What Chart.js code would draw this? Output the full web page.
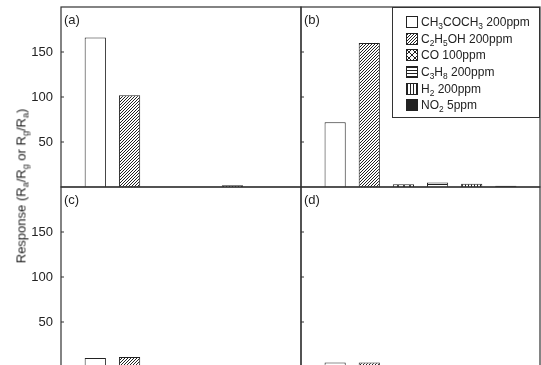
<!DOCTYPE html>
<html>
<head>
<meta charset="utf-8">
<script src="https://cdn.jsdelivr.net/npm/chart.js@4.4.1/dist/chart.umd.min.js"></script>
<style>
  html, body { margin: 0; padding: 0; background: #fff; overflow: hidden; width: 541px; height: 365px; }
  body { position: relative; font-family: "Liberation Sans", Arial, sans-serif; color: #222; }
  canvas { position: absolute; }
  #ytitle { position: absolute; left: 21px; top: 186px; transform: translate(-50%, -50%) rotate(-90deg);
            white-space: nowrap; font-size: 13px; }
  sub { font-size: 70%; vertical-align: -0.3em; line-height: 0; }
  #legend { position: absolute; left: 392px; top: 7px; width: 148px; height: 111px; box-sizing: border-box;
            background: #fff; border: 1px solid #333; padding: 6px 0 0 13px; font-size: 12px; }
  .row { height: 16.6px; display: flex; align-items: center; white-space: nowrap; }
  .row canvas { position: static; margin-right: 3px; }
</style>
</head>
<body>
<canvas id="ca" width="310" height="200" style="left:0;top:0"></canvas>
<canvas id="cb" width="260" height="200" style="left:290px;top:0"></canvas>
<canvas id="cc" width="310" height="200" style="left:0;top:180px"></canvas>
<canvas id="cd" width="260" height="200" style="left:290px;top:180px"></canvas>
<div id="ytitle">Response (R<sub>a</sub>/R<sub>g</sub> or R<sub>g</sub>/R<sub>a</sub>)</div>
<div id="legend"></div>
<script>
// gases, same order in every panel
const gases = ['CH3COCH3', 'C2H5OH', 'CO', 'C3H8', 'H2', 'NO2'];
const gasLabels = ['CH<sub>3</sub>COCH<sub>3</sub> 200ppm', 'C<sub>2</sub>H<sub>5</sub>OH 200ppm', 'CO 100ppm',
                   'C<sub>3</sub>H<sub>8</sub> 200ppm', 'H<sub>2</sub> 200ppm', 'NO<sub>2</sub> 5ppm'];

// response
const panelA = [166, 102, 0, 0, 2, 0];
const panelB = [72, 160, 3, 5, 3.5, 1.5];
const panelC = [10, 11, 0, 0, 0, 0];
const panelD = [5, 5, 0, 0, 0, 0];

const yTicks = [50, 100, 150];
const yMax = 200;

const INK = '#222';
const FONT = '"Liberation Sans", Arial, sans-serif';

// fill patterns for the bars
function makePattern(kind) {
    const c = document.createElement('canvas');
    const g = c.getContext('2d');
    const n = kind === 'cross' ? 6 : 3;
    c.width = c.height = n;
    g.fillStyle = '#fff';
    g.fillRect(0, 0, n, n);
    g.strokeStyle = INK;
    g.lineWidth = 1;
    g.beginPath();
    if (kind === 'diag') {
        g.moveTo(0, n); g.lineTo(n, 0);
        g.moveTo(-1, 1); g.lineTo(1, -1);
        g.moveTo(n - 1, n + 1); g.lineTo(n + 1, n - 1);
    } else if (kind === 'cross') {
        g.moveTo(0, 0); g.lineTo(n, n);
        g.moveTo(0, n); g.lineTo(n, 0);
    } else if (kind === 'horiz') {
        g.moveTo(0, 1.5); g.lineTo(n, 1.5);
    } else if (kind === 'vert') {
        g.moveTo(1.5, 0); g.lineTo(1.5, n);
    }
    g.stroke();
    return g.createPattern(c, 'repeat');
}

const fills = ['#fff', makePattern('diag'), makePattern('cross'), makePattern('horiz'), makePattern('vert'), INK];

// frame, inside tick marks and panel letter
const framePlugin = {
    id: 'frame',
    afterDatasetsDraw(chart, args, opts) {
        const ctx = chart.ctx;
        const a = chart.chartArea;
        const y = chart.scales.y;
        ctx.save();
        ctx.strokeStyle = '#333';
        ctx.lineWidth = 1.2;
        ctx.strokeRect(a.left, a.top, a.right - a.left, a.bottom - a.top);
        ctx.beginPath();
        y.ticks.forEach(t => {
            if (!yTicks.includes(t.value)) return;
            const py = y.getPixelForValue(t.value);
            ctx.moveTo(a.left, py);
            ctx.lineTo(a.left + 3, py);
        });
        ctx.stroke();
        ctx.fillStyle = INK;
        ctx.font = '13px ' + FONT;
        ctx.textBaseline = 'middle';
        ctx.fillText(opts.label, a.left + 3, a.top + 13);
        ctx.restore();
    }
};

function noPad(s) {
    s.paddingTop = 0;
    s.paddingBottom = 0;
    s.paddingLeft = 0;
    s.paddingRight = 0;
}

function makePanel(id, values, label, isLeft) {
    new Chart(document.getElementById(id), {
        type: 'bar',
        data: {
            labels: ['', ...gases, ''],
            datasets: [{
                data: [null, ...values, null],
                backgroundColor: [null, ...fills, null],
                borderColor: INK,
                borderWidth: 1,
                categoryPercentage: 0.62,
                barPercentage: 1
            }]
        },
        options: {
            responsive: false,
            animation: false,
            layout: { padding: { left: 0, top: 7, right: isLeft ? 9 : 10, bottom: 13 } },
            plugins: {
                legend: { display: false },
                tooltip: { enabled: false },
                frame: { label: label }
            },
            scales: {
                x: {
                    offset: false,
                    grid: { display: false, drawTicks: false },
                    border: { display: false },
                    ticks: { display: false },
                    afterFit: s => { s.height = 0; noPad(s); }
                },
                y: {
                    min: 0,
                    max: yMax,
                    grid: { display: false, drawTicks: false },
                    border: { display: false },
                    ticks: {
                        stepSize: 50,
                        padding: 8,
                        color: INK,
                        font: { family: FONT, size: 13 },
                        callback: v => (isLeft && yTicks.includes(v)) ? v : ''
                    },
                    afterFit: s => { s.width = isLeft ? 61 : 11; noPad(s); }
                }
            }
        },
        plugins: [framePlugin]
    });
}

makePanel('ca', panelA, '(a)', true);
makePanel('cb', panelB, '(b)', false);
makePanel('cc', panelC, '(c)', true);
makePanel('cd', panelD, '(d)', false);

// legend with subscripts
const legend = document.getElementById('legend');
gasLabels.forEach((txt, i) => {
    const row = document.createElement('div');
    row.className = 'row';
    const sw = document.createElement('canvas');
    sw.width = sw.height = 12;
    const g = sw.getContext('2d');
    g.fillStyle = fills[i];
    g.fillRect(0, 0, 12, 12);
    g.strokeStyle = INK;
    g.lineWidth = 1;
    g.strokeRect(0.5, 0.5, 11, 11);
    row.appendChild(sw);
    const span = document.createElement('span');
    span.innerHTML = txt;
    row.appendChild(span);
    legend.appendChild(row);
});
</script>
</body>
</html>
